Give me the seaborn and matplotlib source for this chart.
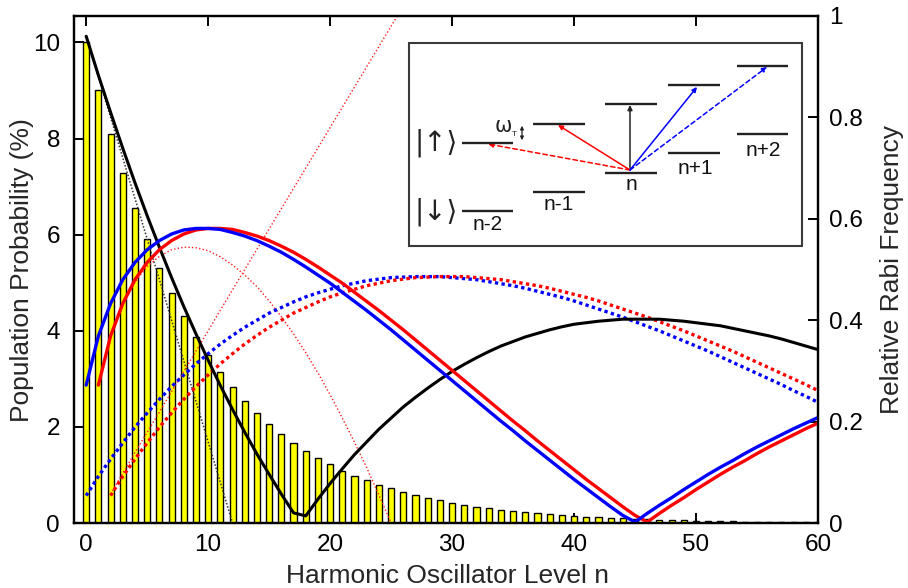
import numpy as np
import pandas as pd
import matplotlib
matplotlib.use("Agg")
import matplotlib.pyplot as plt
from matplotlib.patches import Rectangle, FancyArrowPatch
import seaborn as sns

# ---------------- data ----------------
n_levels = list(range(0, 61))
population = [10.00, 9.00, 8.10, 7.29, 6.56, 5.90, 5.31, 4.78, 4.30, 3.87,
              3.49, 3.14, 2.82, 2.54, 2.29, 2.06, 1.85, 1.67, 1.50, 1.35,
              1.22, 1.09, 0.98, 0.89, 0.80, 0.72, 0.65, 0.58, 0.52, 0.47,
              0.42, 0.38, 0.34, 0.31, 0.28, 0.25, 0.23, 0.20, 0.18, 0.16,
              0.15, 0.13, 0.12, 0.11, 0.10, 0.09, 0.08, 0.07, 0.06, 0.06,
              0.05, 0.05, 0.04, 0.04, 0.03, 0.03, 0.03, 0.02, 0.02, 0.02, 0.02]

carrier = [0.960, 0.883, 0.810, 0.739, 0.671, 0.606, 0.544, 0.484, 0.427, 0.373,
           0.321, 0.271, 0.224, 0.179, 0.136, 0.096, 0.057, 0.020, 0.014, 0.047,
           0.078, 0.107, 0.135, 0.160, 0.185, 0.207, 0.229, 0.248, 0.266, 0.283,
           0.299, 0.313, 0.326, 0.338, 0.349, 0.358, 0.367, 0.374, 0.381, 0.387,
           0.392, 0.395, 0.398, 0.400, 0.402, 0.402, 0.402, 0.402, 0.400, 0.398,
           0.395, 0.392, 0.389, 0.384, 0.379, 0.374, 0.369, 0.363, 0.356, 0.349, 0.342]

n_blue1 = list(range(0, 61))
blue_sb1 = [0.272, 0.369, 0.433, 0.480, 0.514, 0.539, 0.557, 0.570, 0.578, 0.581,
            0.581, 0.579, 0.573, 0.566, 0.557, 0.546, 0.534, 0.520, 0.505, 0.489,
            0.473, 0.455, 0.437, 0.419, 0.400, 0.381, 0.361, 0.341, 0.321, 0.301,
            0.281, 0.261, 0.241, 0.221, 0.201, 0.182, 0.162, 0.143, 0.124, 0.105,
            0.086, 0.068, 0.050, 0.032, 0.015, 0.002, 0.019, 0.035, 0.050, 0.066,
            0.081, 0.096, 0.110, 0.123, 0.137, 0.150, 0.162, 0.174, 0.186, 0.197, 0.208]

n_red1 = list(range(1, 61))
red_sb1 = [0.272, 0.369, 0.433, 0.480, 0.514, 0.539, 0.557, 0.570, 0.578, 0.581,
           0.581, 0.579, 0.573, 0.566, 0.557, 0.546, 0.534, 0.520, 0.505, 0.489,
           0.473, 0.455, 0.437, 0.419, 0.400, 0.381, 0.361, 0.341, 0.321, 0.301,
           0.281, 0.261, 0.241, 0.221, 0.201, 0.182, 0.162, 0.143, 0.124, 0.105,
           0.086, 0.068, 0.050, 0.032, 0.015, 0.002, 0.019, 0.035, 0.050, 0.066,
           0.081, 0.096, 0.110, 0.123, 0.137, 0.150, 0.162, 0.174, 0.186, 0.197]

n_blue2 = list(range(0, 61))
blue_sb2 = [0.054, 0.092, 0.126, 0.158, 0.189, 0.217, 0.244, 0.269, 0.292, 0.314,
            0.334, 0.353, 0.370, 0.386, 0.400, 0.414, 0.425, 0.436, 0.446, 0.454,
            0.461, 0.468, 0.473, 0.478, 0.481, 0.484, 0.485, 0.486, 0.486, 0.486,
            0.484, 0.482, 0.480, 0.476, 0.472, 0.468, 0.463, 0.457, 0.451, 0.445,
            0.438, 0.430, 0.422, 0.414, 0.406, 0.397, 0.388, 0.379, 0.369, 0.359,
            0.349, 0.339, 0.328, 0.317, 0.306, 0.295, 0.284, 0.273, 0.261, 0.250, 0.238]

n_red2 = list(range(2, 61))
red_sb2 = [0.054, 0.092, 0.126, 0.158, 0.189, 0.217, 0.244, 0.269, 0.292, 0.314,
           0.334, 0.353, 0.370, 0.386, 0.400, 0.414, 0.425, 0.436, 0.446, 0.454,
           0.461, 0.468, 0.473, 0.478, 0.481, 0.484, 0.485, 0.486, 0.486, 0.486,
           0.484, 0.482, 0.480, 0.476, 0.472, 0.468, 0.463, 0.457, 0.451, 0.445,
           0.438, 0.430, 0.422, 0.414, 0.406, 0.397, 0.388, 0.379, 0.369, 0.359,
           0.349, 0.339, 0.328, 0.317, 0.306, 0.295, 0.284, 0.273, 0.261]

# Lamb-Dicke approximations (thin dotted)
n_ld_carrier = list(range(0, 13))
ld_carrier = [0.96, 0.88, 0.80, 0.72, 0.64, 0.56, 0.48, 0.40, 0.32, 0.24, 0.16, 0.08, 0.00]

n_ld_red1 = list(range(1, 26))
ld_red1 = [0.271, 0.368, 0.431, 0.475, 0.506, 0.526, 0.539, 0.544, 0.543, 0.537,
           0.525, 0.509, 0.489, 0.466, 0.438, 0.407, 0.373, 0.336, 0.296, 0.253,
           0.207, 0.159, 0.109, 0.055, 0.000]

n_ld_red2 = list(range(2, 27))
ld_red2 = [0.057, 0.098, 0.139, 0.179, 0.219, 0.259, 0.299, 0.339, 0.379, 0.420,
           0.460, 0.500, 0.540, 0.580, 0.620, 0.660, 0.700, 0.740, 0.780, 0.820,
           0.860, 0.900, 0.940, 0.980, 1.020]

x_ticks = [0, 10, 20, 30, 40, 50, 60]
left_ticks = [0, 2, 4, 6, 8, 10]
right_ticks = [0, 0.2, 0.4, 0.6, 0.8, 1.0]
right_ticklabels = ["0", "0.2", "0.4", "0.6", "0.8", "1"]

# ---------------- style ----------------
sns.set_theme(style="white")
plt.rcParams["font.family"] = ["Liberation Sans", "DejaVu Sans"]
plt.rcParams["axes.linewidth"] = 1.6
TICK_FS = 17.5
LABEL_FS = 19

W, H = 908, 588
fig = plt.figure(figsize=(W / 100, H / 100), dpi=100)
fig.patch.set_facecolor("white")
ax = fig.add_axes([74 / W, 1 - 523 / H, (818 - 74) / W, (523 - 16) / H])

bar_df = pd.DataFrame({"n": n_levels, "p": population})
sns.barplot(data=bar_df, x="n", y="p", native_scale=True, width=0.5,
            color="#ffff00", saturation=1, edgecolor="black", linewidth=1.0,
            ax=ax, zorder=2)

ax.set_xlim(-1, 60)
ax.set_ylim(0, 10.55)
ax.set_xticks(x_ticks)
ax.set_xticklabels([str(t) for t in x_ticks])
ax.set_yticks(left_ticks)
ax.set_yticklabels([str(t) for t in left_ticks])
ax.tick_params(axis="both", direction="in", length=7, width=1.4, labelsize=TICK_FS,
               colors="black")
ax.tick_params(axis="x", top=True, bottom=True, pad=8)
ax.tick_params(axis="y", left=True, right=False, pad=10)
ax.set_xlabel("")
ax.set_ylabel("")
for s in ax.spines.values():
    s.set_color("black")
    s.set_linewidth(1.6)

ax2 = ax.twinx()
ax2.set_ylim(0, 1)
ax2.set_yticks(right_ticks)
ax2.set_yticklabels(right_ticklabels)
ax2.tick_params(axis="y", direction="in", length=7, width=1.4, labelsize=TICK_FS,
                right=True, pad=8, colors="black")
for s in ax2.spines.values():
    s.set_color("black")
    s.set_linewidth(1.6)

thin_dot = (0, (1, 1.6))
thick_dot = (0, (1, 1))

sns.lineplot(x=n_ld_carrier, y=ld_carrier, ax=ax2, color="#333333", linewidth=1.1,
             linestyle=(0, (1, 1.2)), sort=False, errorbar=None)
sns.lineplot(x=n_ld_red1, y=ld_red1, ax=ax2, color="#ff2020", linewidth=1.0,
             linestyle=thin_dot, sort=False, errorbar=None)
sns.lineplot(x=n_ld_red2, y=ld_red2, ax=ax2, color="#ff2020", linewidth=1.0,
             linestyle=thin_dot, sort=False, errorbar=None)

sns.lineplot(x=n_blue2, y=blue_sb2, ax=ax2, color="#0000ff", linewidth=2.4,
             linestyle=thick_dot, sort=False, errorbar=None)
sns.lineplot(x=n_red2, y=red_sb2, ax=ax2, color="#ff0000", linewidth=2.4,
             linestyle=thick_dot, sort=False, errorbar=None)
sns.lineplot(x=n_levels, y=carrier, ax=ax2, color="black", linewidth=2.2,
             sort=False, errorbar=None)
sns.lineplot(x=n_red1, y=red_sb1, ax=ax2, color="#ff0000", linewidth=2.4,
             sort=False, errorbar=None)
sns.lineplot(x=n_blue1, y=blue_sb1, ax=ax2, color="#0000ff", linewidth=2.4,
             sort=False, errorbar=None)
ax2.set_xlim(-1, 60)
ax2.set_ylabel("")
ax2.set_xlabel("")

fig.text(447 / W, 1 - 576 / H, "Harmonic Oscillator Level n", ha="center", va="center",
         fontsize=LABEL_FS)
fig.text(22 / W, 1 - 270 / H, "Population Probability (%)", ha="center", va="center",
         rotation=90, fontsize=LABEL_FS)
fig.text(892 / W, 1 - 270 / H, "Relative Rabi Frequency", ha="center", va="center",
         rotation=90, fontsize=LABEL_FS)

# ---------------- inset level diagram (pixel coordinates) ----------------
ov = fig.add_axes([0, 0, 1, 1], zorder=10)
ov.set_xlim(0, W)
ov.set_ylim(H, 0)
ov.axis("off")
ov.patch.set_visible(False)

ov.add_patch(Rectangle((409, 43), 393, 203, facecolor="white", edgecolor="#3a3a3a",
                       linewidth=1.5))

level_x = [(462, 513), (533, 585), (605, 657), (668, 720), (737, 788)]
up_y = [142.7, 123.5, 104.3, 85.0, 65.7]
down_y = [211.0, 191.7, 172.7, 153.3, 134.3]
for (x0, x1), yu, yd in zip(level_x, up_y, down_y):
    ov.plot([x0, x1], [yu, yu], color="#222222", lw=1.7, solid_capstyle="butt")
    ov.plot([x0, x1], [yd, yd], color="#222222", lw=1.7, solid_capstyle="butt")

lab_fs = 15
for txt, (x, y) in zip(["n-2", "n-1", "n", "n+1", "n+2"],
                       [(487.5, 224), (559, 205), (631, 184), (695, 168), (763, 150)]):
    ov.text(x, y, txt, ha="center", va="center", fontsize=lab_fs, color="#111111")

ov.text(436, 143, "|↑⟩", ha="center", va="center", fontsize=20, color="#222222",
        family=["DejaVu Sans"])
ov.text(436, 212, "|↓⟩", ha="center", va="center", fontsize=20, color="#222222",
        family=["DejaVu Sans"])
ov.text(503, 126, "ω", ha="center", va="center", fontsize=15, color="#222222",
        family=["DejaVu Sans"])
ov.text(514.5, 134, "T", ha="center", va="center", fontsize=6, color="#222222")
ov.add_patch(FancyArrowPatch((522, 123), (522, 143), arrowstyle="<|-|>",
                             mutation_scale=5, lw=0.9, color="#222222"))

origin = (630, 170)
arrows = [((630, 105), "#222222", "-"),
          ((558, 125), "#ff0000", "-"),
          ((488, 144), "#ff0000", (0, (3, 2))),
          ((697, 87), "#0000ff", "-"),
          ((767, 67), "#0000ff", (0, (3, 2)))]
for tgt, col, ls in arrows:
    ov.add_patch(FancyArrowPatch(origin, tgt, arrowstyle="-|>", mutation_scale=7,
                                 lw=1.1, color=col, linestyle=ls,
                                 shrinkA=0, shrinkB=0))

fig.savefig("out.png", dpi=100, facecolor="white")
